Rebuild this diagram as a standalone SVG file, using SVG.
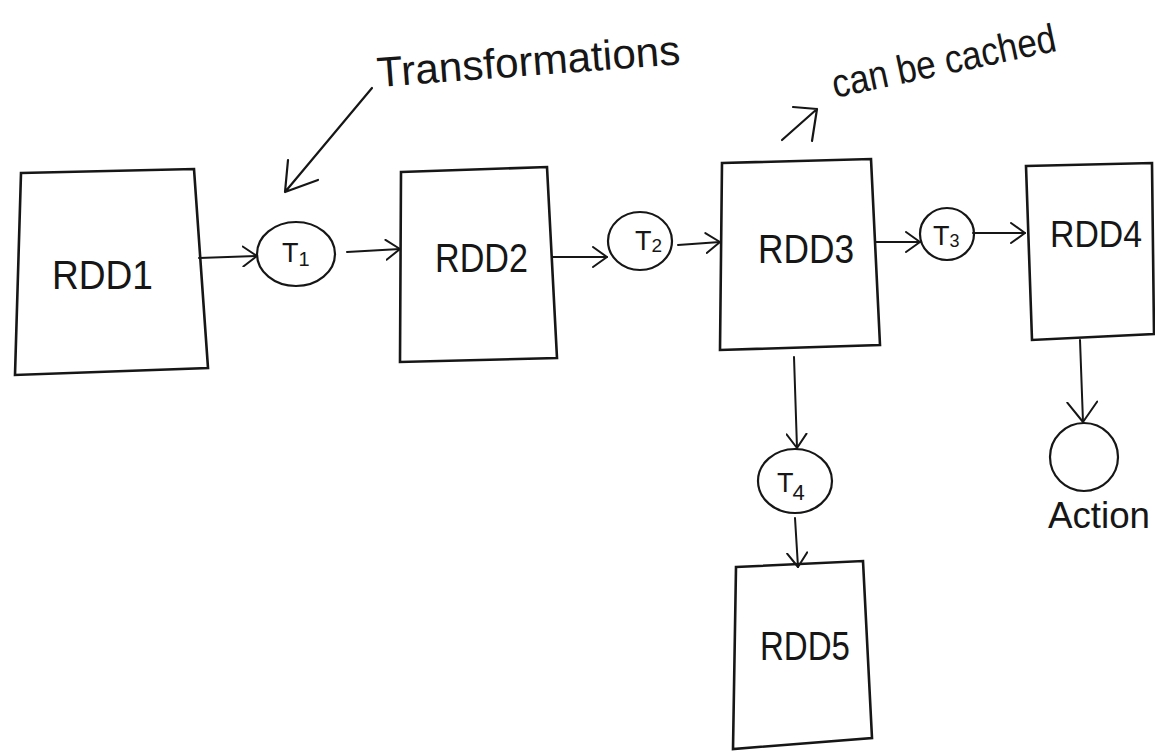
<svg xmlns="http://www.w3.org/2000/svg" width="1155" height="751" viewBox="0 0 1155 751">
<style>
.bg{fill:#ffffff}
.box{fill:none;stroke:#161616;stroke-width:2.6;stroke-linejoin:miter}
.circ{fill:none;stroke:#161616;stroke-width:2.2}
.edge{fill:none;stroke:#161616;stroke-width:2;stroke-linecap:round}
.ptr{fill:none;stroke:#161616;stroke-width:2.2;stroke-linecap:round;stroke-linejoin:round}
.lbl{font-family:"Liberation Sans",Arial,sans-serif;font-size:40px;fill:#161616}
.tl{font-family:"Liberation Sans",Arial,sans-serif;font-size:27px;fill:#161616}
.note{font-family:"Liberation Sans",Arial,sans-serif;fill:#161616}
</style>
<defs>
<marker id="ah" viewBox="0 0 16 22" refX="15" refY="11" markerWidth="16" markerHeight="22" markerUnits="userSpaceOnUse" orient="auto">
<path d="M1,1 L15,11 L1,21" fill="none" stroke="#161616" stroke-width="2" stroke-linecap="round" stroke-linejoin="round"/>
</marker>
<marker id="ahL" viewBox="0 0 22 32" refX="21" refY="16" markerWidth="22" markerHeight="32" markerUnits="userSpaceOnUse" orient="auto">
<path d="M1,1 L21,16 L1,31" fill="none" stroke="#161616" stroke-width="2" stroke-linecap="round" stroke-linejoin="round"/>
</marker>
</defs>
<rect class="bg" x="0" y="0" width="1155" height="751"/>

<g id="rdd1">
<polygon class="box" points="21,173 194,169 208,368 15,375"/>
<text class="lbl" x="52" y="289" textLength="101" lengthAdjust="spacingAndGlyphs">RDD1</text>
</g>
<g id="t1">
<ellipse class="circ" cx="296" cy="254" rx="39" ry="32"/>
<text class="tl" x="282" y="262">T<tspan font-size="20" dy="4">1</tspan></text>
</g>
<g id="rdd2">
<polygon class="box" points="401,172 547,167 557,358 400,362"/>
<text class="lbl" x="435" y="272" textLength="93" lengthAdjust="spacingAndGlyphs">RDD2</text>
</g>
<g id="t2">
<ellipse class="circ" cx="640" cy="241" rx="32" ry="29"/>
<text class="tl" x="635" y="250">T<tspan font-size="19" dy="2">2</tspan></text>
</g>
<g id="rdd3">
<polygon class="box" points="722,163 871,159 880,345 720,350"/>
<text class="lbl" x="758" y="263" textLength="96" lengthAdjust="spacingAndGlyphs">RDD3</text>
</g>
<g id="t3">
<ellipse class="circ" cx="947" cy="234" rx="27" ry="26"/>
<text class="tl" x="933" y="245">T<tspan font-size="18" dy="2">3</tspan></text>
</g>
<g id="rdd4">
<polygon class="box" points="1026,166 1152,163 1154,334 1032,340"/>
<text class="lbl" x="1050" y="247" style="font-size:36px" textLength="92" lengthAdjust="spacingAndGlyphs">RDD4</text>
</g>
<g id="t4">
<ellipse class="circ" cx="795" cy="481" rx="37" ry="32"/>
<text class="tl" x="777" y="492">T<tspan font-size="22" dy="8" dx="-1">4</tspan></text>
</g>
<g id="rdd5">
<polygon class="box" points="736,567 863,561 872,738 733,749"/>
<text class="lbl" x="760" y="660" textLength="90" lengthAdjust="spacingAndGlyphs" fill="#333">RDD5</text>
</g>
<g id="action">
<ellipse class="circ" cx="1084" cy="457" rx="34" ry="34"/>
<text class="note" x="1048" y="528" font-size="37" textLength="102" lengthAdjust="spacingAndGlyphs">Action</text>
</g>
<g id="note-transformations">
<text class="note" x="378" y="87" font-size="42" textLength="304" lengthAdjust="spacingAndGlyphs" transform="rotate(-4.3 378 87)">Transformations</text>
<path class="ptr" d="M372,88 L285,192 M288,160 L285,192 L318,180"/>
</g>
<g id="note-cached">
<text class="note" x="835" y="98" font-size="40" textLength="228" lengthAdjust="spacingAndGlyphs" transform="rotate(-12 835 98)">can be cached</text>
<path class="ptr" d="M782,140 L817,109 M793,107 L817,109 L812,141"/>
</g>

<g id="connectors">
<path class="edge" d="M199,258 L257,256" marker-end="url(#ah)"/>
<path class="edge" d="M347,252 L400,249" marker-end="url(#ah)"/>
<path class="edge" d="M553,257 L607,257" marker-end="url(#ah)"/>
<path class="edge" d="M678,245 L720,242" marker-end="url(#ah)"/>
<path class="edge" d="M875,242 L920,242" marker-end="url(#ah)"/>
<path class="edge" d="M973,233 L1025,233" marker-end="url(#ah)"/>
<path class="edge" d="M794,357 L797,448" marker-end="url(#ah)"/>
<path class="edge" d="M795,518 L798,567" marker-end="url(#ah)"/>
<path class="edge" d="M1080,340 L1083,422" marker-end="url(#ahL)"/>
</g>
</svg>
